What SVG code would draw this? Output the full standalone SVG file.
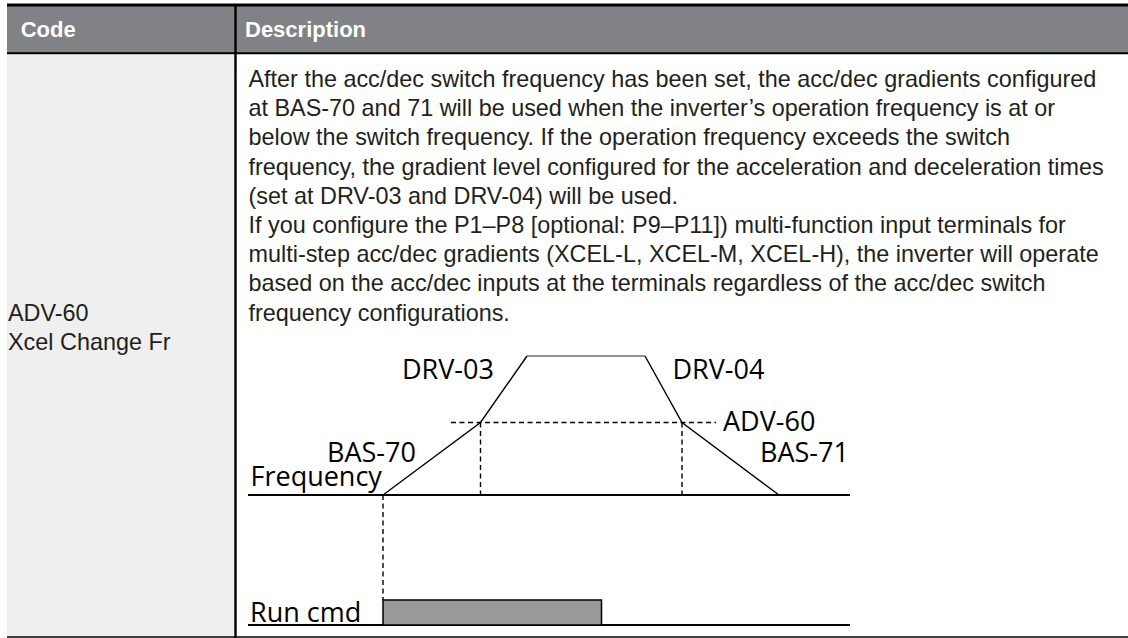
<svg xmlns="http://www.w3.org/2000/svg" width="1128" height="638" viewBox="0 0 1128 638">
<style>
.hd{font-family:"Liberation Sans",Arial,sans-serif;font-weight:bold;font-size:22px;fill:#fff}
.bt{font-family:"Liberation Sans",Arial,sans-serif;font-size:23.4px;fill:#231f20}
.lb{font-family:"Open Sans","Noto Sans",sans-serif;font-size:27px;fill:#000}
.ln{stroke:#000;stroke-width:1.4;fill:none}
.ax{stroke:#000;stroke-width:2.2;fill:none}
.ds{stroke:#000;stroke-width:1.4;stroke-dasharray:5 3.5;fill:none}
</style>
<rect width="1128" height="638" fill="#fff"/>
<g id="table">
<rect x="7" y="5" width="1121" height="48" fill="#808285"/>
<rect x="7" y="55" width="228" height="581" fill="#efefef"/>
<line x1="7" y1="5" x2="1128" y2="5" stroke="#000" stroke-width="3"/>
<line x1="7" y1="53.3" x2="1128" y2="53.3" stroke="#000" stroke-width="2"/>
<line x1="7" y1="637" x2="1128" y2="637" stroke="#000" stroke-width="1.6"/>
<line x1="235.5" y1="4" x2="235.5" y2="638" stroke="#000" stroke-width="2.4"/>
</g>
<g id="header">
<text class="hd" x="20.7" y="37.3">Code</text>
<text class="hd" x="245" y="37.3">Description</text>
</g>
<g id="code">
<text class="bt" x="8" y="320.6">ADV-60</text>
<text class="bt" x="8" y="349.8">Xcel Change Fr</text>
</g>
<g id="description">
<text class="bt" x="248.5" y="87">After the acc/dec switch frequency has been set, the acc/dec gradients configured</text>
<text class="bt" x="248.5" y="116.2">at BAS-70 and 71 will be used when the inverter’s operation frequency is at or</text>
<text class="bt" x="248.5" y="145.4">below the switch frequency. If the operation frequency exceeds the switch</text>
<text class="bt" x="248.5" y="174.6">frequency, the gradient level configured for the acceleration and deceleration times</text>
<text class="bt" x="248.5" y="203.8">(set at DRV-03 and DRV-04) will be used.</text>
<text class="bt" x="248.5" y="233">If you configure the P1–P8 [optional: P9–P11]) multi-function input terminals for</text>
<text class="bt" x="248.5" y="262.2">multi-step acc/dec gradients (XCEL-L, XCEL-M, XCEL-H), the inverter will operate</text>
<text class="bt" x="248.5" y="291.4">based on the acc/dec inputs at the terminals regardless of the acc/dec switch</text>
<text class="bt" x="248.5" y="320.6">frequency configurations.</text>
</g>
<g id="chart">
<g id="connectors">
<line class="ax" x1="248" y1="495" x2="850" y2="495"/>
<line class="ax" x1="248" y1="625" x2="850" y2="625"/>
<polyline class="ln" points="383,495 480.5,422.5 527,356"/>
<line x1="527" y1="356" x2="645" y2="356" stroke="#6d6e71" stroke-width="1.4"/>
<polyline class="ln" points="645,356 682,422.5 779,495"/>
<line class="ds" x1="451" y1="422.5" x2="716" y2="422.5"/>
<line class="ds" x1="480.5" y1="422.5" x2="480.5" y2="495"/>
<line class="ds" x1="682" y1="422.5" x2="682" y2="495"/>
<line class="ds" x1="383" y1="495" x2="383" y2="600"/>
<rect x="383" y="600" width="218.5" height="25" fill="#999" stroke="#000" stroke-width="1.5"/>
</g>
<text class="lb" x="402" y="379">DRV-03</text>
<text class="lb" x="672.5" y="379">DRV-04</text>
<text class="lb" x="723" y="431">ADV-60</text>
<text class="lb" x="760" y="461.5">BAS-71</text>
<text class="lb" x="327" y="461.5">BAS-70</text>
<text class="lb" x="250.5" y="485.5">Frequency</text>
<text class="lb" x="250" y="621.5">Run cmd</text>
</g>
</svg>
